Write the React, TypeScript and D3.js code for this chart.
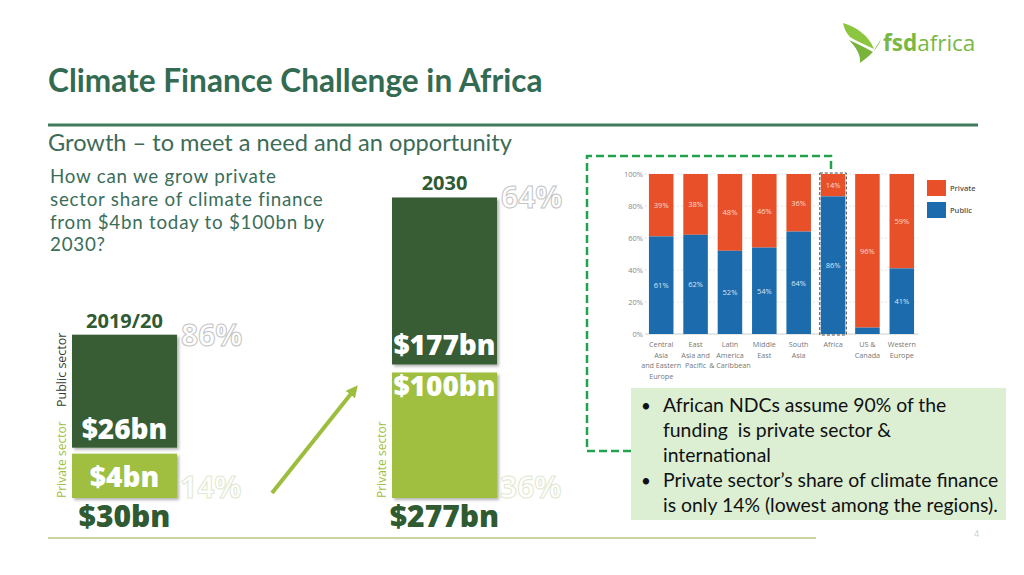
import React from "react";
import * as d3 from "d3";

// ---------- data ----------
const leftYear = "2019/20";
const rightYear = "2030";
const sectors = ["Private", "Public"];
const leftValues = [4, 26]; // $bn private, public
const rightValues = [100, 177];
const leftShares = [14, 86];
const rightShares = [36, 64];

const regions = [
  "Central|Asia|and Eastern|Europe",
  "East|Asia and|Pacific",
  "Latin|America|& Caribbean",
  "Middle|East",
  "South|Asia",
  "Africa",
  "US &|Canada",
  "Western|Europe",
];
const publicShare = [61, 62, 52, 54, 64, 86, 4, 41];
const privateShare = [39, 38, 48, 46, 36, 14, 96, 59];
const yTicks = [0, 20, 40, 60, 80, 100];

const bullets = [
  ["African NDCs assume 90% of the", "funding  is private sector &", "international"],
  ["Private sector\u2019s share of climate finance", "is only 14% (lowest among the regions)."],
];
const questionLines = [
  "How can we grow private",
  "sector share of climate finance",
  "from $4bn today to $100bn by",
  "2030?",
];

// ---------- styles ----------
const DARK = "#385d36";
const LIGHT = "#a0bf3f";
const TXT_DARK = "#2f5a32";
const ORANGE = "#e8502a";
const BLUE = "#1c6bad";
const SANS = "'Open Sans', sans-serif";
const CAL = "Lato, 'Open Sans', sans-serif";

function Column({ x, w, values, shares, scale, gap, year, label0, showPublicLabel, privLabelTop }) {
  const base = 498;
  const hPriv = scale(values[0]);
  const hPub = scale(values[1]);
  const privTop = base - hPriv;
  const pubBottom = privTop - gap;
  const pubTop = pubBottom - hPub;
  const total = values[0] + values[1];
  const fmt = (v) => `$${v}bn`;
  return (
    <g>
      <rect x={x} y={pubTop} width={w} height={hPub} fill={DARK} filter="url(#sh)" />
      <rect x={x} y={privTop} width={w} height={hPriv} fill={LIGHT} filter="url(#sh)" />
      <text x={x + w / 2} y={pubTop - 7} textAnchor="middle" fontFamily={SANS} fontWeight={700} fontSize={20} fill={TXT_DARK}>{year}</text>
      <text x={x + w / 2} y={pubBottom - 9} textAnchor="middle" fontFamily={SANS} fontWeight={800} fontSize={28} fill="#fff">{fmt(values[1])}</text>
      <text x={x + w / 2} y={privLabelTop ? privTop + 24 : privTop + hPriv / 2 + 11} textAnchor="middle" fontFamily={SANS} fontWeight={800} fontSize={28} fill="#fff">{fmt(values[0])}</text>
      <text x={x + w / 2} y={base + 29} textAnchor="middle" fontFamily={SANS} fontWeight={800} fontSize={30} fill={TXT_DARK}>{fmt(total)}</text>
      <text x={x + w + 4} y={pubTop + 11} fontFamily={SANS} fontWeight={700} fontSize={30} fill="#fff" stroke="#c4c4c4" strokeWidth={1}>{shares[1]}%</text>
      <text x={x + w + 3} y={base} fontFamily={SANS} fontWeight={700} fontSize={30} fill="#fff" stroke="#e0e8d0" strokeWidth={1}>{shares[0]}%</text>
      <text transform={`translate(${x - 6},${base}) rotate(-90)`} fontFamily={SANS} fontSize={12} fill={LIGHT}>{label0} sector</text>
      {showPublicLabel && (
        <text transform={`translate(${x - 6},${base - 91}) rotate(-90)`} fontFamily={SANS} fontSize={12.5} fill="#33402f">Public sector</text>
      )}
    </g>
  );
}

export default function App() {
  const sL = d3.scaleSqrt().domain([0, d3.max(leftValues)]).range([0, 113]);
  const sR = d3.scaleSqrt().domain([0, d3.max(rightValues)]).range([0, 167]);

  const xB = d3.scaleBand().domain(regions).range([645.5, 917.5]).paddingInner(0.286).paddingOuter(0.1);
  const yB = d3.scaleLinear().domain([0, 100]).range([334, 174]);
  const bw = xB.bandwidth();

  return (
    <svg width={1024} height={575} style={{ position: "absolute", left: 0, top: 0, background: "#fff" }}>
      <defs>
        <filter id="sh" x="-10%" y="-10%" width="130%" height="130%">
          <feDropShadow dx={2} dy={2} stdDeviation={1.5} floodColor="#000" floodOpacity={0.3} />
        </filter>
      </defs>
      <rect width={1024} height={575} fill="#fff" />

      {/* logo */}
      <g>
        <path d="M843,23 C857,27 869,36 874,49 C866,45 856,41 850,37 C846,33 844,28 843,23 Z" fill="#8cc63f" />
        <path d="M849,40 C858,44 866,48 873,52 L881,39 C878,48 870,56 860,63 C861,55 856,47 849,40 Z" fill="#79b43a" />
        <text x={883} y={51} fontFamily={SANS} fontSize={22.5} fill="#78b843">
          <tspan fontWeight={700}>fsd</tspan>
          <tspan fontWeight={400}>africa</tspan>
        </text>
      </g>

      {/* title */}
      <text x={48} y={92} fontFamily={CAL} fontWeight={700} fontSize={31.6} fill="#336b52">Climate Finance Challenge in Africa</text>
      <line x1={48} x2={978} y1={125} y2={125} stroke="#3f7a5f" strokeWidth={3} />
      <text x={48} y={151} fontFamily={CAL} fontSize={23.6} fill="#3d6b57">Growth – to meet a need and an opportunity</text>
      {questionLines.map((l, i) => (
        <text key={i} x={50} y={183 + i * 22.8} fontFamily={CAL} fontSize={18.8} letterSpacing={0.75} fill="#3a6e5a">{l}</text>
      ))}

      {/* left / right columns */}
      <Column x={72} w={105} values={leftValues} shares={leftShares} scale={sL} gap={6} year={leftYear} label0={sectors[0]} showPublicLabel privLabelTop={false} />
      <Column x={392} w={105} values={rightValues} shares={rightShares} scale={sR} gap={8} year={rightYear} label0={sectors[0]} showPublicLabel={false} privLabelTop />

      {/* arrow */}
      <defs>
        <marker id="ah" viewBox="0 0 10 10" refX={5} refY={5} markerWidth={3} markerHeight={3} orient="auto">
          <path d="M0,0 L10,5 L0,10 Z" fill="#9cbe3c" />
        </marker>
      </defs>
      <line x1={272} y1={493} x2={354} y2={390} stroke="#9cbe3c" strokeWidth={4} markerEnd="url(#ah)" />

      {/* bottom rule */}
      <line x1={48} x2={816} y1={538} y2={538} stroke="#c9d49e" strokeWidth={2} />
      <text x={974} y={537} fontFamily={SANS} fontSize={9} fill="#ccc">4</text>

      {/* embedded stacked chart */}
      <g>
        {yTicks.map((t) => (
          <g key={t}>
            <line x1={645} x2={918} y1={yB(t)} y2={yB(t)} stroke={t === 0 ? "#ccc" : "#e6e6e6"} strokeDasharray={t === 0 ? null : "2,2"} />
            <text x={643} y={yB(t) + 3} textAnchor="end" fontFamily={SANS} fontSize={7.5} fill="#888">{t}%</text>
          </g>
        ))}
        {regions.map((r, i) => {
          const x = xB(r);
          const pubTop = yB(publicShare[i]);
          return (
            <g key={r}>
              <rect x={x} y={yB(100)} width={bw} height={pubTop - yB(100)} fill={ORANGE} />
              <rect x={x} y={pubTop} width={bw} height={yB(0) - pubTop} fill={BLUE} />
              {privateShare[i] >= 10 && (
                <text x={x + bw / 2} y={(yB(100) + pubTop) / 2 + 3} textAnchor="middle" fontFamily={SANS} fontSize={7.5} fill="#fbd9cc">{privateShare[i]}%</text>
              )}
              {publicShare[i] >= 10 && (
                <text x={x + bw / 2} y={(pubTop + yB(0)) / 2 + 3} textAnchor="middle" fontFamily={SANS} fontSize={7.5} fill="#d6e6f5">{publicShare[i]}%</text>
              )}
              {r.split("|").map((ln, j) => (
                <text key={j} x={x + bw / 2} y={347 + j * 10.5} textAnchor="middle" fontFamily={SANS} fontSize={7.2} fill="#777">{ln}</text>
              ))}
              {r === "Africa" && (
                <rect x={x - 1} y={yB(100) - 1} width={bw + 2} height={yB(0) - yB(100) + 2} fill="none" stroke="#444" strokeWidth={1} strokeDasharray="3,2" />
              )}
            </g>
          );
        })}
        <rect x={927} y={180} width={19} height={16} fill={ORANGE} />
        <rect x={927} y={202} width={19} height={16} fill={BLUE} />
        <text x={950} y={191} fontFamily={SANS} fontSize={7.5} fontWeight={600} fill="#555">{sectors[0]}</text>
        <text x={950} y={213} fontFamily={SANS} fontSize={7.5} fontWeight={600} fill="#555">{sectors[1]}</text>
      </g>

      {/* green dashed connector */}
      <path d={`M631,451 L587,451 L587,156 L831,156 L831,${yB(100) - 1}`} fill="none" stroke="#22a24c" strokeWidth={2.5} strokeDasharray="8,4" />

      {/* text box */}
      <rect x={631} y={388} width={375} height={132} fill="#dcefd3" />
      {(() => {
        let k = 0;
        const out = [];
        bullets.forEach((b, bi) => {
          b.forEach((ln, li) => {
            const y = 412 + k * 24.9;
            if (li === 0) out.push(<text key={`b${bi}`} x={641} y={y} fontFamily={CAL} fontSize={17} fill="#111">•</text>);
            out.push(<text key={`l${bi}${li}`} x={663} y={y} fontFamily={CAL} fontSize={19.4} fill="#111" style={{ whiteSpace: "pre" }}>{ln}</text>);
            k++;
          });
        });
        return out;
      })()}
    </svg>
  );
}
